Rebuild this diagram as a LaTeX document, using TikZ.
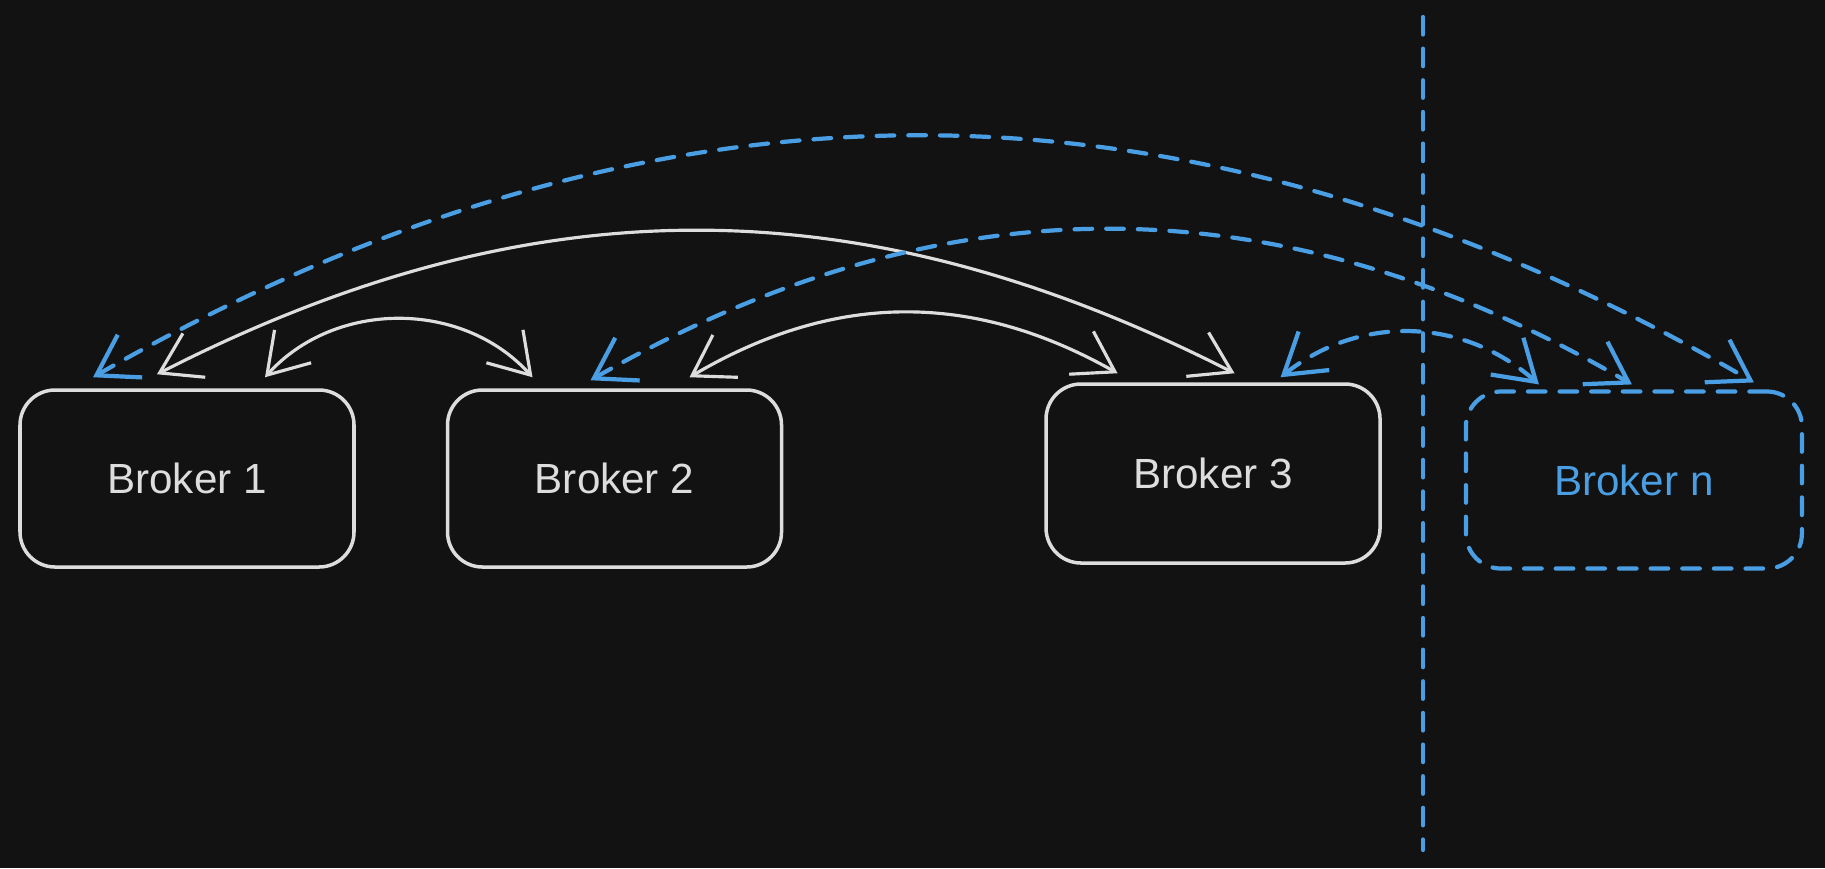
\documentclass[tikz,border=0pt]{standalone}
\usepackage{fontspec}
\setmainfont{Liberation Sans}
\usetikzlibrary{arrows.meta,positioning}
\definecolor{bg}{HTML}{121212}
\definecolor{fg}{HTML}{DDDDDD}
\definecolor{sky}{HTML}{4A9EE3}

\begin{document}
\begin{tikzpicture}[<->,>={Straight Barb[length=11pt,width=14pt]},line cap=round,
                    broker/.style={draw=fg,text=fg,line width=1pt,rounded corners=0.35cm,
                                   minimum width=3.34cm,minimum height=1.77cm,
                                   font=\fontsize{12}{15}\selectfont},
                    extra/.style={broker,draw=sky,text=sky,line width=1.2pt,
                                  dash pattern=on 5pt off 4pt},
                    link/.style={draw=fg,line width=0.9pt},
                    future/.style={draw=sky,line width=1.2pt,dash pattern=on 5pt off 4pt}]

  \fill[bg] (0,0) rectangle (18.25,-8.68);
  \useasboundingbox (0,0) rectangle (18.25,-8.68);

  \node[broker]   (b1) at (1.87,-4.785)            {Broker 1};
  \node[broker]   (b2) [right=0.9cm of b1]          {Broker 2};
  \node[broker,minimum height=1.79cm] (b3) [right=2.61cm of b2,yshift=0.05cm] {Broker 3};
  \node[extra,minimum width=3.36cm]   (bn) [right=0.82cm of b3,yshift=-0.065cm] {Broker n};

  % the brokers we have
  \path ([xshift=0.78cm,yshift=0.11cm]b1.north)  edge [link,bend left=48] ([xshift=-0.82cm,yshift=0.11cm]b2.north)
        ([xshift=0.75cm,yshift=0.11cm]b2.north)  edge [link,bend left=30] ([xshift=-0.955cm,yshift=0.09cm]b3.north)
        ([xshift=-0.30cm,yshift=0.14cm]b1.north) edge [link,bend left=27] ([xshift=0.215cm,yshift=0.09cm]b3.north);

  % the broker to come
  \path ([xshift=-0.94cm,yshift=0.11cm]b1.north) edge [future,bend left=30] ([xshift=1.2cm,yshift=0.07cm]bn.north)
        ([xshift=-0.24cm,yshift=0.08cm]b2.north) edge [future,bend left=30] ([xshift=-0.02cm,yshift=0.05cm]bn.north)
        ([xshift=0.675cm,yshift=0.05cm]b3.north) edge [future,bend left=40] ([xshift=-0.95cm,yshift=0.05cm]bn.north);

  \coordinate (top)    at (14.23,-0.17);
  \coordinate (bottom) at (14.23,-8.5);
  \draw[future,-] (top) -- (bottom);
\end{tikzpicture}
\end{document}
